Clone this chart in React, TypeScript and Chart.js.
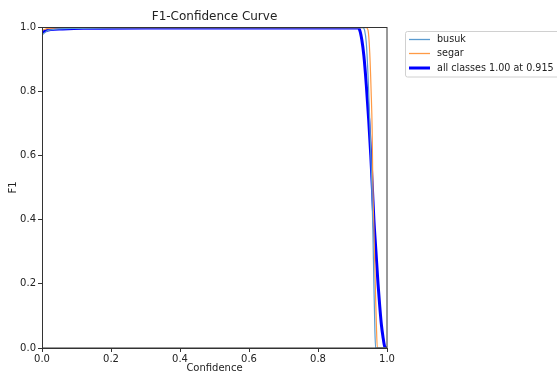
import React, { useEffect, useRef } from "react";
import { Chart, registerables } from "chart.js";

Chart.register(...registerables);

const titleText = "F1-Confidence Curve";
const xLabel = "Confidence";
const yLabel = "F1";
const tickValues = [0, 0.2, 0.4, 0.6, 0.8, 1.0];

const busukConf = [0, 0.02, 0.1, 0.3, 0.93, 0.935, 0.94, 0.945, 0.951, 0.956, 0.959, 0.962, 0.965, 0.967, 1.0];
const busukF1 = [0.975, 0.99, 0.996, 0.998, 0.998, 0.99, 0.95, 0.85, 0.68, 0.5, 0.37, 0.2, 0.05, 0, 0];

const segarConf = [0, 0.02, 0.1, 0.94, 0.945, 0.95, 0.954, 0.957, 0.959, 0.962, 0.966, 0.969, 0.972, 1.0];
const segarF1 = [0.99, 0.996, 0.998, 0.998, 0.99, 0.92, 0.8, 0.68, 0.5, 0.37, 0.2, 0.08, 0, 0];

const allConf = [0, 0.01, 0.025, 0.06, 0.12, 0.3, 0.915, 0.921, 0.927, 0.933, 0.94, 0.947, 0.953, 0.958, 0.962, 0.968, 0.974, 0.979, 0.984, 0.989, 0.992, 0.995, 1.0];
const allF1 = [0.983, 0.988, 0.992, 0.994, 0.996, 0.997, 0.997, 0.99, 0.96, 0.91, 0.82, 0.71, 0.6, 0.49, 0.4, 0.3, 0.2, 0.13, 0.07, 0.03, 0.01, 0, 0];

const seriesLabels = ["busuk", "segar", "all classes 1.00 at 0.915"];
const seriesColors = ["#5b9bd0", "#ff9a45", "#0000ff"];
const seriesWidths = [1, 1, 3];

const FONT = "'DejaVu Sans', sans-serif";
const TEXT = "#222";

const pts = (xs: number[], ys: number[]) => xs.map((x, i) => ({ x, y: ys[i] }));

const decorPlugin = {
  id: "decor",
  afterDraw(chart: any) {
    const { ctx, chartArea } = chart;
    const { left, right, top, bottom } = chartArea;
    ctx.save();
    // frame
    ctx.strokeStyle = "#333";
    ctx.lineWidth = 1;
    ctx.strokeRect(left + 0.5, top + 0.5, right - left - 0.5, bottom - top - 0.5);
    // title
    ctx.fillStyle = TEXT;
    ctx.font = `12px ${FONT}`;
    ctx.textAlign = "center";
    ctx.textBaseline = "middle";
    ctx.fillText(titleText, (left + right) / 2, 17);
    // axis labels
    ctx.font = `10px ${FONT}`;
    ctx.fillText(xLabel, (left + right) / 2, 368);
    ctx.save();
    ctx.translate(13, (top + bottom) / 2);
    ctx.rotate(-Math.PI / 2);
    ctx.fillText(yLabel, 0, 0);
    ctx.restore();
    // legend
    const bx = 405.5, by = 31.5, bw = 160, bh = 45.5;
    ctx.fillStyle = "rgba(255,255,255,0.8)";
    ctx.strokeStyle = "#d0d0d0";
    ctx.lineWidth = 1;
    ctx.beginPath();
    (ctx as any).roundRect(bx, by, bw, bh, 2);
    ctx.fill();
    ctx.stroke();
    const rows = [39.5, 53.5, 68];
    ctx.textAlign = "left";
    ctx.font = `9.6px ${FONT}`;
    for (let i = 0; i < seriesLabels.length; i++) {
      ctx.strokeStyle = seriesColors[i];
      ctx.lineWidth = seriesWidths[i] === 1 ? 1.3 : 3;
      ctx.beginPath();
      ctx.moveTo(409, rows[i]);
      ctx.lineTo(430, rows[i]);
      ctx.stroke();
      ctx.fillStyle = TEXT;
      ctx.fillText(seriesLabels[i], 437, rows[i]);
    }
    ctx.restore();
  },
};

export default function App() {
  const ref = useRef<HTMLCanvasElement | null>(null);
  useEffect(() => {
    document.body.style.margin = "0";
    if (!ref.current) return;
    const chart = new Chart(ref.current, {
      type: "scatter",
      data: {
        datasets: [
          { label: seriesLabels[0], data: pts(busukConf, busukF1) },
          { label: seriesLabels[1], data: pts(segarConf, segarF1) },
          { label: seriesLabels[2], data: pts(allConf, allF1) },
        ].map((d, i) => ({
          ...d,
          showLine: true,
          borderColor: seriesColors[i],
          backgroundColor: seriesColors[i],
          borderWidth: seriesWidths[i] === 1 ? 1.2 : 3,
          pointRadius: 0,
          cubicInterpolationMode: "monotone",
          clip: 0,
        })) as any,
      },
      options: {
        animation: false,
        responsive: false,
        layout: { padding: { top: 27, right: 170, left: 0, bottom: 0 } },
        plugins: { legend: { display: false }, title: { display: false }, tooltip: { enabled: false } },
        scales: {
          x: {
            type: "linear",
            min: 0,
            max: 1,
            afterFit(scale: any) { scale.height = 26; },
            afterBuildTicks(scale: any) { scale.ticks = tickValues.map((v) => ({ value: v })); },
            grid: { drawOnChartArea: false, drawTicks: true, tickLength: 4, color: "#333" },
            border: { display: true, color: "#333" },
            ticks: { padding: 1, color: TEXT, font: { family: FONT, size: 10 }, maxRotation: 0, callback: (v: any) => Number(v).toFixed(1) },
          },
          y: {
            type: "linear",
            min: 0,
            max: 1,
            afterFit(scale: any) { scale.width = 42; },
            afterBuildTicks(scale: any) { scale.ticks = tickValues.map((v) => ({ value: v })); },
            grid: { drawOnChartArea: false, drawTicks: true, tickLength: 4, color: "#333" },
            border: { display: true, color: "#333" },
            ticks: { padding: 2, color: TEXT, font: { family: FONT, size: 10 }, callback: (v: any) => Number(v).toFixed(1) },
          },
        },
      },
      plugins: [decorPlugin],
    });
    return () => chart.destroy();
  }, []);
  return <canvas ref={ref} width={557} height={374} style={{ display: "block" }} />;
}
